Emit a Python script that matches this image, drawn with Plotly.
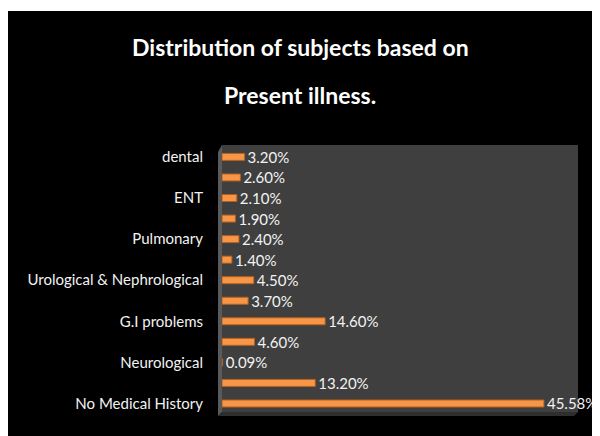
import plotly.graph_objects as go

categories = ["dental", "", "ENT", "", "Pulmonary", "", "Urological & Nephrological",
              "", "G.I problems", "", "Neurological", "", "No Medical History"]
values = [3.20, 2.60, 2.10, 1.90, 2.40, 1.40, 4.50, 3.70, 14.60, 4.60, 0.09, 13.20, 45.58]
positions = list(range(len(values)))
title_lines = ["Distribution of subjects based on", "Present illness."]

OFF = 8  # page body margin
W, H = 600 - OFF, 436 - OFF
# plot area in page pixels: x 222..578, y 145..415
L, R, T, B = 222 - OFF, 600 - 578, 145 - OFF, 436 - 415
PW, PH = W - L - R, H - T - B


def px(xp):
    return (xp - OFF - L) / PW


def py(yp):
    return (H - B - (yp - OFF)) / PH


FONT = "Lato"

fig = go.Figure()
fig.add_trace(go.Bar(
    x=values, y=positions, orientation="h", width=0.34,
    marker=dict(color="#F79646", line=dict(color="#B5601F", width=1)),
    text=[f"{v:.2f}%" for v in values], textposition="outside",
    textfont=dict(family=FONT, size=15, color="#F2F2F2"),
    cliponaxis=False, constraintext="none",
))

shapes = []
# thin white strip at top (rest of white border comes from page margin)
shapes.append(dict(type="rect", xref="paper", yref="paper", x0=px(0), x1=px(W + OFF), y0=py(11), y1=py(0),
                   fillcolor="white", line=dict(width=0), layer="below"))
# back wall
shapes.append(dict(type="rect", xref="paper", yref="paper", x0=px(222), x1=px(578), y0=py(412), y1=py(145),
                   fillcolor="#3F3F3F", line=dict(width=0), layer="below"))
# left wall
shapes.append(dict(type="path", xref="paper", yref="paper",
                   path=f"M {px(218)},{py(152)} L {px(222)},{py(145)} L {px(222)},{py(412)} L {px(218)},{py(416)} Z",
                   fillcolor="#5A5A5A", line=dict(width=0), layer="below"))
# floor
shapes.append(dict(type="path", xref="paper", yref="paper",
                   path=f"M {px(218)},{py(416)} L {px(222)},{py(412)} L {px(578)},{py(412)} L {px(574)},{py(416)} Z",
                   fillcolor="#2E2E2E", line=dict(width=0), layer="below"))

annotations = []
for line, yc in zip(title_lines, [47, 95]):
    annotations.append(dict(text=f"<b>{line}</b>", xref="paper", yref="paper", x=px(300), y=py(yc),
                            xanchor="center", yanchor="middle", showarrow=False,
                            font=dict(family=FONT, size=23, color="white")))

fig.update_layout(
    width=W, height=H, margin=dict(l=L, r=R, t=T, b=B, pad=0),
    paper_bgcolor="black", plot_bgcolor="rgba(0,0,0,0)",
    showlegend=False, shapes=shapes, annotations=annotations,
    xaxis=dict(range=[0, 50.4], showgrid=False, zeroline=False, showticklabels=False,
               showline=False, fixedrange=True),
    yaxis=dict(range=[len(values) - 1 + 0.56, -0.58], tickmode="array", tickvals=positions,
               ticktext=categories, showgrid=False, zeroline=False, showline=False,
               ticks="", ticklabelstandoff=18,
               tickfont=dict(family=FONT, size=15, color="#F2F2F2")),
)

fig.write_html("out.html")
